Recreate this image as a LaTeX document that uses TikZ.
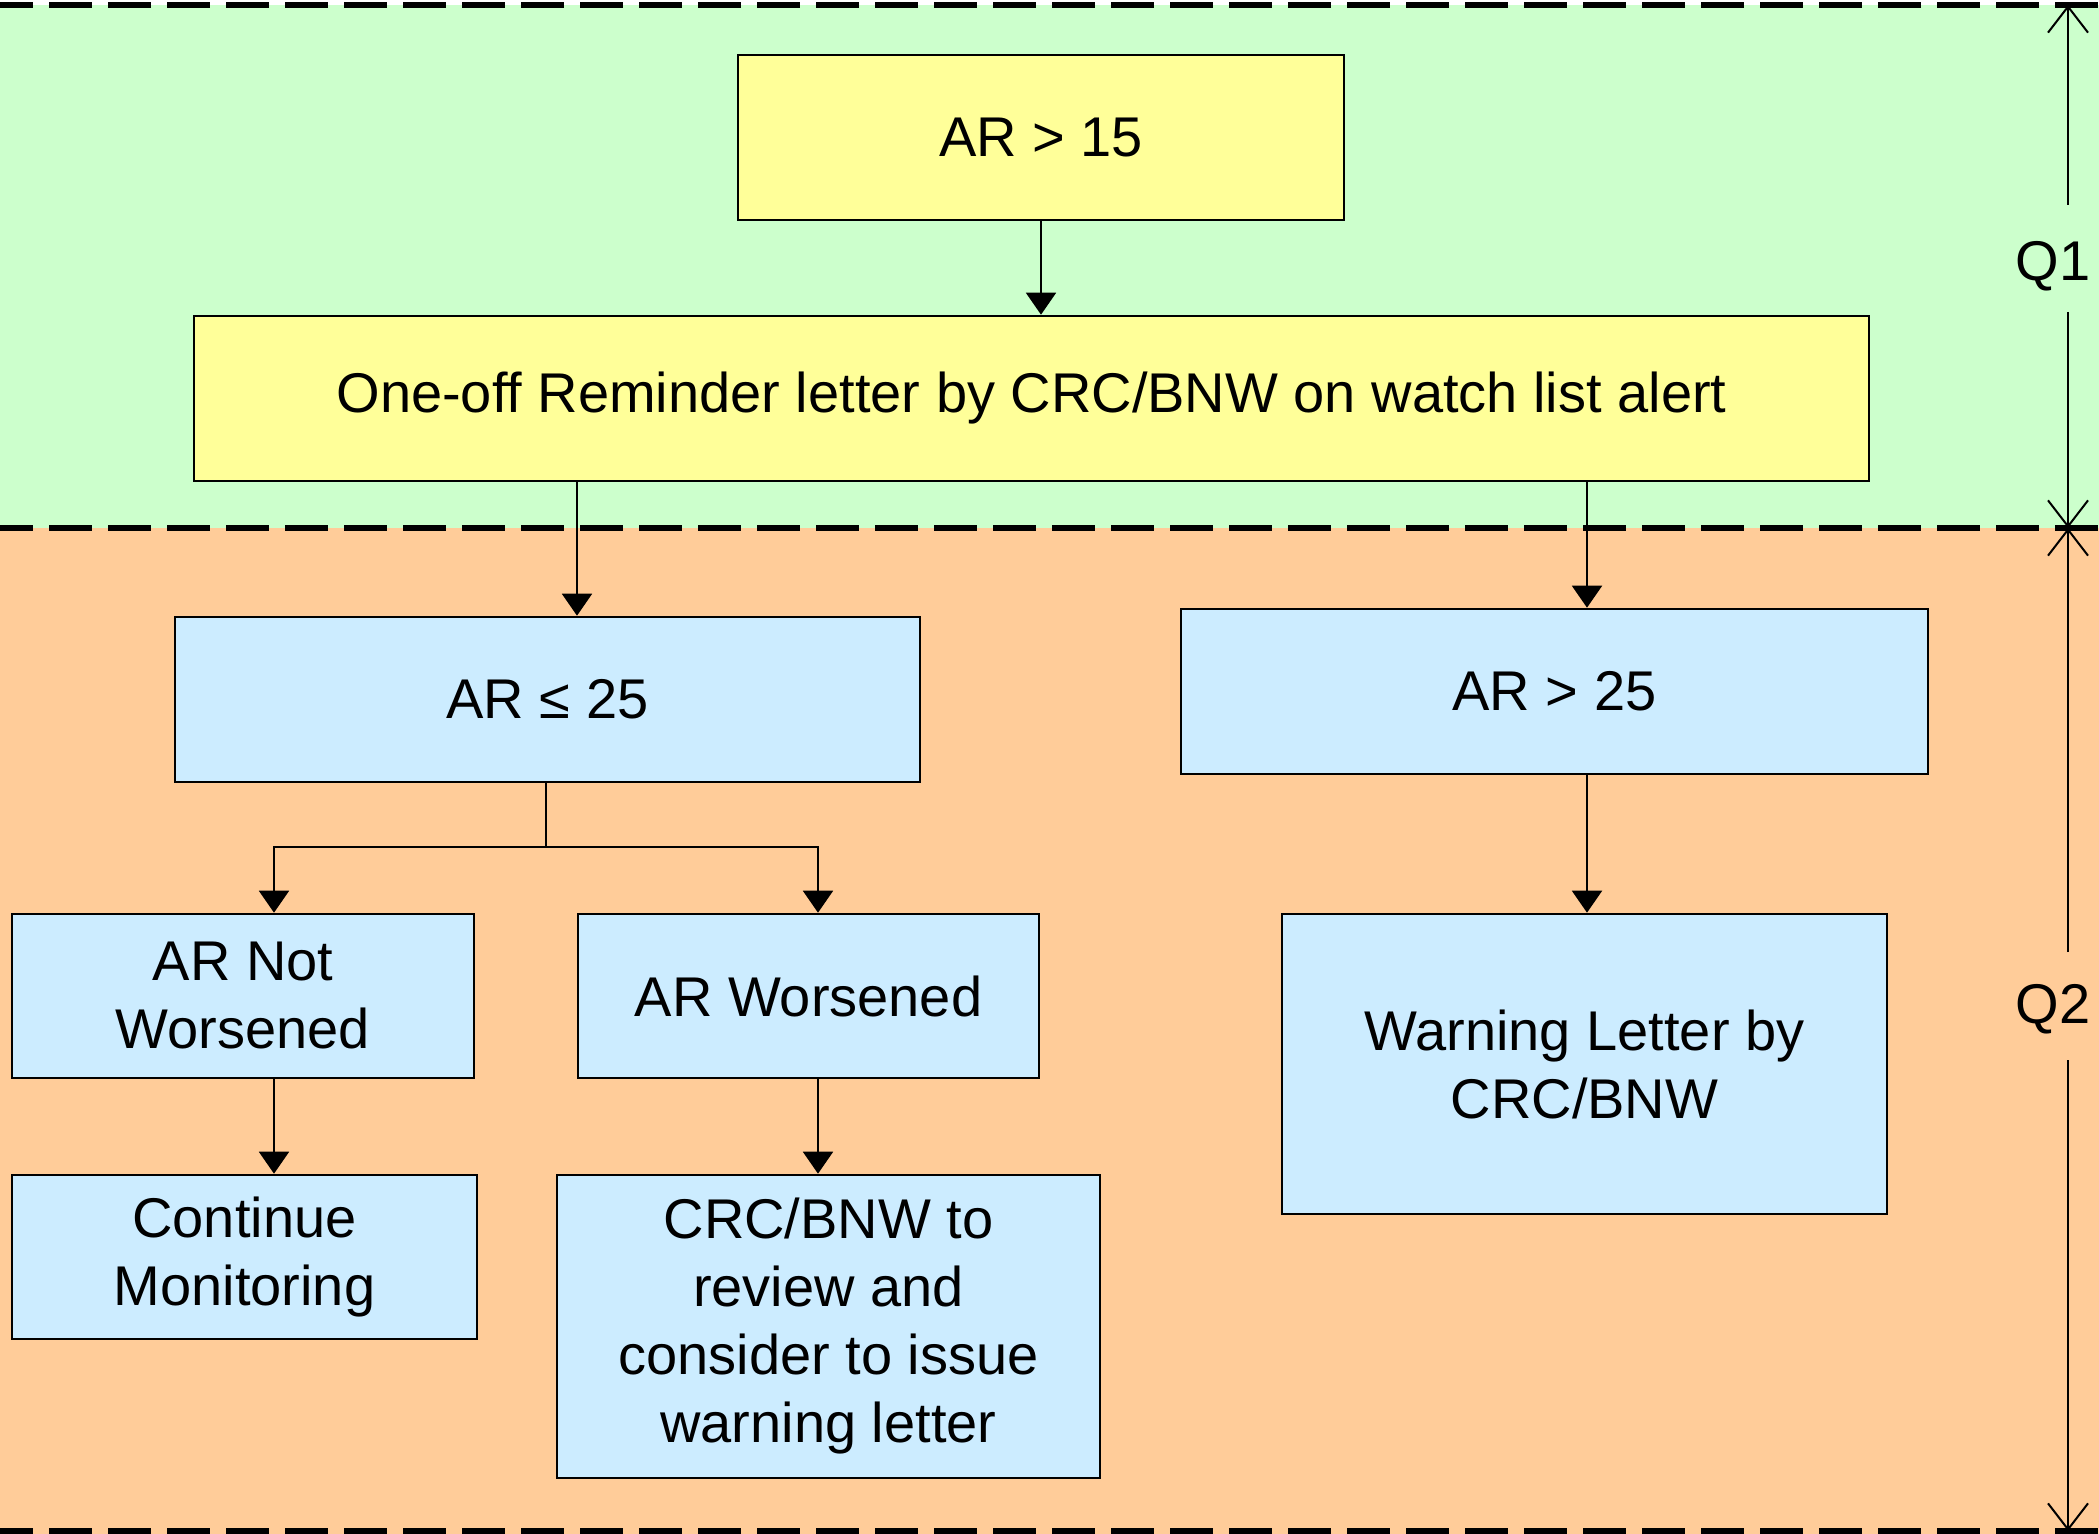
\documentclass[tikz,border=0pt]{standalone}
\usepackage{fontspec}
\setmainfont{Liberation Sans}
\usetikzlibrary{arrows.meta,calc}
\definecolor{bggreen}{HTML}{CCFFCC}
\definecolor{bgorange}{HTML}{FFCC99}
\definecolor{boxyellow}{HTML}{FFFF99}
\definecolor{boxblue}{HTML}{CCECFF}
\begin{document}
\begin{tikzpicture}[x=0.5pt,y=-0.5pt,
  box/.style={draw=black, line width=1.3pt, inner sep=0pt, align=center, font=\fontsize{28}{34}\selectfont},
  ybox/.style={box, fill=boxyellow},
  bbox/.style={box, fill=boxblue},
  arr/.style={line width=1pt, -{Triangle[width=15pt,length=11pt]}},
  conn/.style={line width=1pt},
  dimline/.style={line width=1pt, -{Straight Barb[width=20pt,length=13pt]}},
  sepline/.style={line width=3pt, dash pattern=on 21.5pt off 8pt, dash phase=5pt},
  qlabel/.style={font=\fontsize{28}{34}\selectfont, inner sep=0pt}]
\useasboundingbox (0,0) rectangle (2099,1534);
\fill[white] (0,0) rectangle (2099,1534);
\fill[bggreen] (0,5) rectangle (2099,528);
\fill[bgorange] (0,528) rectangle (2099,1534);
\draw[sepline] (0,5) -- (2099,5);
\draw[sepline] (0,528) -- (2099,528);
\draw[sepline] (0,1531) -- (2099,1531);

% boxes
\node[ybox, minimum width=303pt, minimum height=82.5pt] (ar15) at (1041,137.5) {AR > 15};
\node[ybox, minimum width=837.5pt, minimum height=82.5pt] (rem) at (1031.5,398.5) {One-off Reminder letter by CRC/BNW on watch list alert};
\node[bbox, minimum width=372.5pt, minimum height=82.5pt] (le25) at (547.5,699.5) {AR ≤ 25};
\node[bbox, minimum width=373.5pt, minimum height=82.5pt] (gt25) at (1554.5,691.5) {AR > 25};
\node[bbox, minimum width=231pt, minimum height=82pt] (notw) at (243,996) {AR Not\\Worsened};
\node[bbox, minimum width=230.5pt, minimum height=82pt] (wors) at (808.5,996) {AR Worsened};
\node[bbox, minimum width=232.5pt, minimum height=82pt] (cont) at (244.5,1257) {Continue\\Monitoring};
\node[bbox, minimum width=271.5pt, minimum height=151.5pt] (crc) at (828.5,1326.5) {CRC/BNW to\\review and\\consider to issue\\warning letter};
\node[bbox, minimum width=302.5pt, minimum height=150pt] (warn) at (1584.5,1064) {Warning Letter by\\CRC/BNW};

% connectors
\draw[arr] (ar15.south) -- (ar15.south |- rem.north);
\coordinate (xa) at (577,0);
\coordinate (xb) at (1587,0);
\draw[arr] (rem.south -| xa) -- (le25.north -| xa);
\draw[arr] (rem.south -| xb) -- (gt25.north -| xb);
\coordinate (split) at (546,847);
\coordinate (xc) at (274,0);
\coordinate (xd) at (818,0);
\draw[conn] (le25.south -| split) -- (split);
\draw[arr] (split) -| (notw.north -| xc);
\draw[arr] (split) -| (wors.north -| xd);
\draw[arr] (notw.south -| xc) -- (cont.north -| xc);
\draw[arr] (wors.south -| xd) -- (crc.north -| xd);
\draw[arr] (gt25.south -| xb) -- (warn.north -| xb);

% dimension labels
\node[qlabel] (Q1) at (2053,266) {Q1};
\node[qlabel] (Q2) at (2053,1009) {Q2};
\coordinate (q1top) at (2068,5);
\coordinate (q1bot) at (2068,528);
\coordinate (q1a) at (2068,205);
\coordinate (q1b) at (2068,312);
\coordinate (q2top) at (2068,528);
\coordinate (q2bot) at (2068,1531);
\coordinate (q2a) at (2068,952);
\coordinate (q2b) at (2068,1060);
\draw[dimline] (q1a) -- (q1top);
\draw[dimline] (q1b) -- (q1bot);
\draw[dimline] (q2a) -- (q2top);
\draw[dimline] (q2b) -- (q2bot);
\end{tikzpicture}
\end{document}
